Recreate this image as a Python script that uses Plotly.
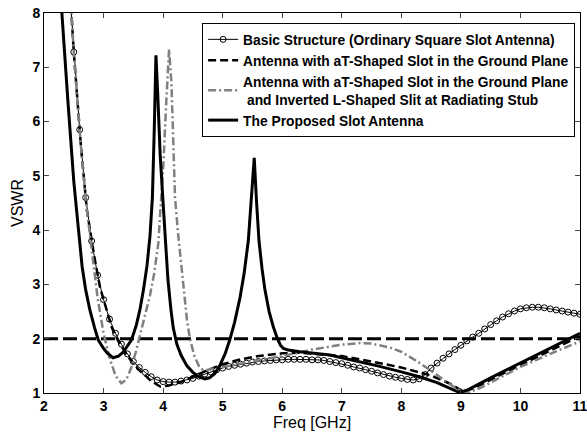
import plotly.graph_objects as go

# ---------------- data ----------------
basic_f = [2.4, 2.5, 2.6, 2.7, 2.8, 2.9, 3.0, 3.1, 3.2, 3.3, 3.4, 3.5, 3.6, 3.7, 3.8, 3.9,
           4.0, 4.1, 4.2, 4.3, 4.4, 4.5, 4.6, 4.7, 4.8, 4.9, 5.0, 5.1, 5.2, 5.3, 5.4, 5.5,
           5.6, 5.7, 5.8, 5.9, 6.0, 6.1, 6.2, 6.3, 6.4, 6.5, 6.6, 6.7, 6.8, 6.9, 7.0, 7.1,
           7.2, 7.3, 7.4, 7.5, 7.6, 7.7, 7.8, 7.9, 8.0, 8.1, 8.2, 8.3, 8.4, 8.5, 8.6, 8.7,
           8.8, 8.9, 9.0, 9.1, 9.2, 9.3, 9.4, 9.5, 9.6, 9.7, 9.8, 9.9, 10.0, 10.1, 10.2,
           10.3, 10.4, 10.5, 10.6, 10.7, 10.8, 10.9, 11.0]
basic_vswr = [8.9, 7.28, 5.85, 4.6, 3.8, 3.17, 2.72, 2.36, 2.1, 1.9, 1.72, 1.58, 1.47, 1.38, 1.3, 1.24,
              1.21, 1.2, 1.2, 1.22, 1.24, 1.27, 1.31, 1.35, 1.39, 1.43, 1.46, 1.49, 1.51, 1.53, 1.55, 1.57,
              1.58, 1.59, 1.6, 1.61, 1.61, 1.62, 1.62, 1.62, 1.62, 1.61, 1.61, 1.6, 1.58, 1.56, 1.54, 1.51,
              1.48, 1.46, 1.43, 1.4, 1.37, 1.34, 1.31, 1.29, 1.27, 1.25, 1.24, 1.26, 1.34, 1.46, 1.55, 1.64,
              1.72, 1.8, 1.88, 1.96, 2.03, 2.1, 2.18, 2.26, 2.33, 2.4, 2.46, 2.51, 2.55, 2.57, 2.58,
              2.58, 2.57, 2.55, 2.53, 2.51, 2.49, 2.47, 2.45]

tslot_f = [2.4, 2.46, 2.5, 2.62, 2.72, 2.84, 2.94, 3.06, 3.14, 3.24, 3.4, 3.6, 3.8, 3.95, 4.1,
           4.3, 4.5, 4.7, 5.0, 5.3, 5.6, 6.0, 6.3, 6.6, 7.0, 7.5, 8.0, 8.5, 8.8, 9.04, 9.2,
           9.6, 10.0, 10.5, 11.0]
tslot_vswr = [8.8, 8.0, 7.28, 5.55, 4.37, 3.54, 2.95, 2.5, 2.2, 1.97, 1.68, 1.42, 1.22, 1.12, 1.14,
              1.2, 1.3, 1.4, 1.53, 1.62, 1.68, 1.73, 1.74, 1.72, 1.68, 1.58, 1.47, 1.32, 1.18, 1.03, 1.08,
              1.3, 1.52, 1.78, 2.05]

tl_f = [2.4, 2.46, 2.5, 2.62, 2.72, 2.8, 2.9, 3.0, 3.1, 3.2, 3.3, 3.38, 3.46, 3.54, 3.61, 3.7,
        3.78, 3.85, 3.92, 3.95, 4.0, 4.05, 4.1, 4.14, 4.17, 4.2, 4.25, 4.3, 4.34, 4.4, 4.45,
        4.52, 4.6, 4.67, 4.75, 5.0, 5.5, 6.0, 6.5, 7.0, 7.3, 7.5, 7.8, 8.0, 8.3, 8.6, 8.9,
        9.1, 9.3, 9.6, 10.0, 10.5, 11.0]
tl_vswr = [8.8, 8.0, 7.28, 5.55, 4.37, 3.6, 2.75, 2.1, 1.65, 1.32, 1.18, 1.24, 1.45, 1.75, 2.05, 2.45,
           2.8, 3.2, 3.76, 4.3, 5.1, 6.3, 7.33, 6.7, 5.8, 4.6, 3.95, 3.45, 3.0, 2.35, 2.0,
           1.7, 1.5, 1.42, 1.43, 1.48, 1.57, 1.68, 1.8, 1.89, 1.92, 1.91, 1.84, 1.76, 1.56, 1.33, 1.1,
           1.0, 1.08, 1.25, 1.48, 1.72, 1.95]

prop_f = [2.25, 2.3, 2.4, 2.5, 2.58, 2.64, 2.7, 2.77, 2.85, 2.91, 3.0, 3.06, 3.16, 3.25, 3.33,
          3.4, 3.47, 3.55, 3.61, 3.67, 3.73, 3.78, 3.82, 3.85, 3.88, 3.91, 3.95, 4.0, 4.04, 4.08,
          4.13, 4.17, 4.23, 4.3, 4.4, 4.5, 4.6, 4.7, 4.78, 4.87, 4.95, 5.04, 5.12, 5.2, 5.29,
          5.36, 5.43, 5.48, 5.53, 5.57, 5.61, 5.66, 5.71, 5.78, 5.85, 5.92, 5.97, 6.02, 6.1,
          6.3, 6.5, 6.8, 7.0, 7.3, 7.6, 8.0, 8.3, 8.6, 8.8, 8.93, 9.0, 9.1, 9.5, 10.0, 10.5, 11.0]
prop_vswr = [8.6, 8.0, 6.4, 4.9, 4.0, 3.33, 2.9, 2.53, 2.2, 1.98, 1.82, 1.74, 1.65, 1.68, 1.75,
             1.86, 1.98, 2.25, 2.53, 2.9, 3.35, 3.9, 4.6, 5.8, 7.22, 6.5, 5.4, 4.5, 3.7, 3.1,
             2.55, 2.2, 1.9, 1.7, 1.5, 1.38, 1.3, 1.26, 1.28, 1.36, 1.5, 1.72, 1.98, 2.3, 2.75,
             3.2, 3.8, 4.5, 5.33, 4.5, 3.8, 3.3, 2.9, 2.5, 2.22, 2.0, 1.88, 1.82, 1.79,
             1.76, 1.74, 1.7, 1.65, 1.58, 1.5, 1.39, 1.3, 1.19, 1.1, 1.03, 1.02, 1.05, 1.28, 1.55, 1.82, 2.1]

ref_f = [2, 11]
ref_vswr = [2, 2]

names = [
    "Basic Structure (Ordinary Square Slot Antenna)",
    "Antenna with aT-Shaped Slot in the Ground Plane",
    "Antenna with aT-Shaped Slot in the Ground Plane<br> and Inverted L-Shaped Slit at Radiating Stub",
    "The Proposed Slot Antenna",
]

x_ticks = [2, 3, 4, 5, 6, 7, 8, 9, 10, 11]
y_ticks = [1, 2, 3, 4, 5, 6, 7, 8]

# ---------------- figure ----------------
fig = go.Figure()

fig.add_trace(go.Scatter(x=ref_f, y=ref_vswr, mode="lines", showlegend=False,
                         line=dict(color="black", width=3, dash="14px,5px")))
fig.add_trace(go.Scatter(x=basic_f, y=basic_vswr, mode="lines+markers", name=names[0],
                         line=dict(color="black", width=1),
                         marker=dict(symbol="circle-open", size=6, color="black",
                                     line=dict(width=1, color="black"))))
fig.add_trace(go.Scatter(x=tslot_f, y=tslot_vswr, mode="lines", name=names[1],
                         line=dict(color="black", width=2.5, dash="8px,4px")))
fig.add_trace(go.Scatter(x=tl_f, y=tl_vswr, mode="lines", name=names[2],
                         line=dict(color="rgb(128,128,128)", width=2.5, dash="8px,3px,2px,3px")))
fig.add_trace(go.Scatter(x=prop_f, y=prop_vswr, mode="lines", name=names[3],
                         line=dict(color="black", width=3)))

font_fam = "Liberation Sans, Arial, sans-serif"

fig.update_layout(
    width=587, height=435,
    margin=dict(l=44, r=7, t=13, b=42, autoexpand=False),
    paper_bgcolor="white", plot_bgcolor="white",
    font=dict(family=font_fam, color="black"),
    legend=dict(x=0.295, y=0.974, xanchor="left", yanchor="top",
                bgcolor="white", bordercolor="black", borderwidth=1,
                font=dict(size=13.8, family=font_fam, color="black", weight="bold"),
                tracegroupgap=0, itemwidth=30),
    xaxis=dict(range=[2, 11], tickvals=x_ticks, ticks="inside", ticklen=5,
               showline=True, linecolor="black", linewidth=1, mirror="ticks",
               showgrid=False, zeroline=False, automargin=False,
               ticklabeloverflow="allow",
               tickfont=dict(size=14, weight="bold", family=font_fam),
               title=dict(text="Freq [GHz]", font=dict(size=16, family=font_fam), standoff=2)),
    yaxis=dict(range=[1, 8], tickvals=y_ticks, ticks="inside", ticklen=5,
               showline=True, linecolor="black", linewidth=1, mirror="ticks",
               showgrid=False, zeroline=False, automargin=False,
               ticklabeloverflow="allow",
               tickfont=dict(size=14, weight="bold", family=font_fam),
               title=dict(text="VSWR", font=dict(size=16, family=font_fam), standoff=4)),
)

fig.write_html("out.html", config={"displayModeBar": False},
               post_script="document.body.style.margin='0';document.body.style.padding='0';")
